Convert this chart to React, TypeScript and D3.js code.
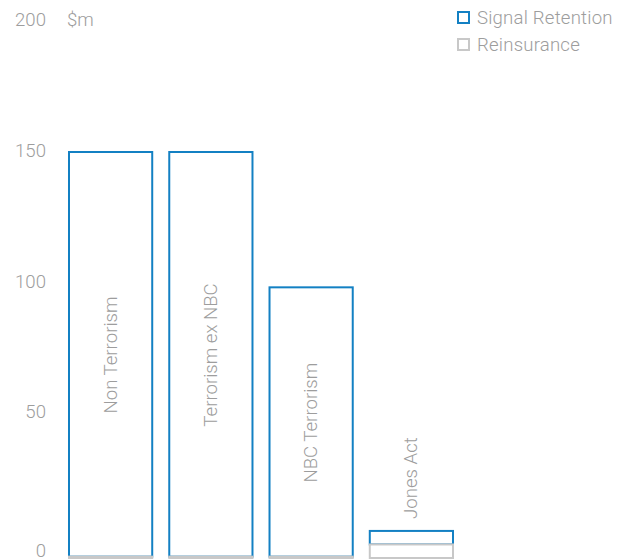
import React from "react";
import * as d3 from "d3";

const categories = ["Non Terrorism", "Terrorism ex NBC", "NBC Terrorism", "Jones Act"];
const signalRetention = [149.5, 149.5, 99.5, 5];
const reinsurance = [0.5, 0.5, 0.5, 5];
const yTicks = [0, 50, 100, 150, 200];
const seriesNames = ["Signal Retention", "Reinsurance"];
const unitLabel = "$m";

const W = 624;
const H = 560;
const BLUE = "#1380c3";
const GREY = "#c8c8c8";
const TEXT = "#9d9d9d";
const FONT = "Roboto, 'Liberation Sans', Arial, sans-serif";
const FS = 18.6;

export default function App() {
  const x = d3.scaleBand<string>().domain(categories).range([68, 454]).paddingInner(0.15).paddingOuter(0);
  const yBar = d3.scaleLinear().domain([0, 150]).range([558, 152]);
  const yAxis = d3.scaleLinear().domain([0, 200]).range([549, 26]);

  const stackData = categories.map((c, i) => ({ c, ret: signalRetention[i], re: reinsurance[i] }));

  return (
    <svg width={W} height={H} style={{ position: "absolute", left: 0, top: 0, background: "#fff" }} fontFamily={FONT}>
      {yTicks.map((t) => (
        <text key={t} x={46} y={t === 0 ? yBar(0) - 1 : yAxis(t)} textAnchor="end" fontSize={FS} fontWeight={300} fill={TEXT}>
          {t}
        </text>
      ))}
      <text x={67} y={yAxis(200)} fontSize={FS} fontWeight={300} fill={TEXT}>{unitLabel}</text>

      {stackData.map((d) => {
        const x0 = x(d.c)! + 1;
        const w = x.bandwidth() - 2;
        const total = d.ret + d.re;
        return (
          <g key={d.c}>
            <rect x={x0} y={yBar(total)} width={w} height={yBar(d.re) - yBar(total)} fill="#fff" stroke={BLUE} strokeWidth={2} />
            <rect x={x0} y={yBar(d.re)} width={w} height={Math.max(0.5, yBar(0) - yBar(d.re))} fill="#fff" stroke={GREY} strokeWidth={2} />
          </g>
        );
      })}

      {stackData.map((d) => {
        const cx = x(d.c)! + x.bandwidth() / 2;
        const total = d.ret + d.re;
        const barH = yBar(0) - yBar(total);
        const inside = barH > 160;
        const ty = inside ? (yBar(total) + yBar(0)) / 2 : yBar(total) - 12;
        return (
          <text
            key={d.c}
            transform={`translate(${cx},${ty}) rotate(-90)`}
            textAnchor={inside ? "middle" : "start"}
            dominantBaseline="central"
            fontSize={FS}
            fontWeight={300}
            fill={TEXT}
          >
            {d.c}
          </text>
        );
      })}

      {seriesNames.map((s, i) => (
        <g key={s} transform={`translate(457,${12 + i * 27})`}>
          <rect x={1} y={0} width={11} height={11} fill="#fff" stroke={i === 0 ? BLUE : GREY} strokeWidth={2} />
          <text x={20} y={12} fontSize={FS} fontWeight={300} fill={TEXT} letterSpacing={0.2}>{s}</text>
        </g>
      ))}
    </svg>
  );
}
